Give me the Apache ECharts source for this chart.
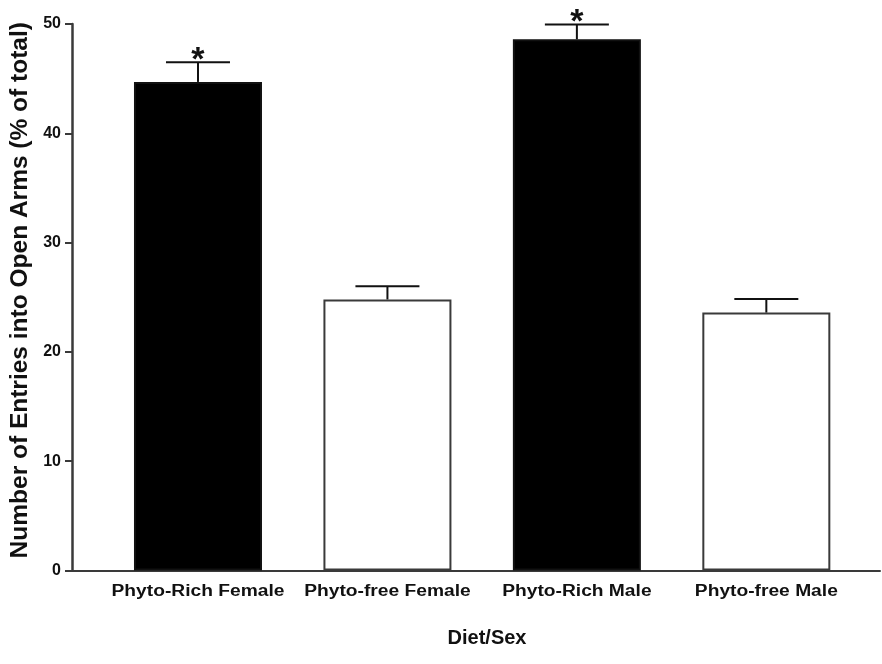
<!DOCTYPE html>
<html>
<head>
<meta charset="utf-8">
<script src="https://cdn.jsdelivr.net/npm/echarts@6/dist/echarts.min.js"></script>
<style>
  html, body { margin: 0; padding: 0; background: #fff; }
  #chart { width: 882px; height: 664px; }
</style>
</head>
<body>
<div id="chart"></div>
<script>
// Group labels along the x axis
const categories = ['Phyto-Rich Female', 'Phyto-free Female', 'Phyto-Rich Male', 'Phyto-free Male'];
// Mean open-arm entries (% of total) and SEM for each group
const means = [44.7, 24.8, 48.6, 23.6];
const sems = [1.8, 1.2, 1.35, 1.25];
// Significance marks shown above the error bars
const marks = ['*', '', '*', ''];
// Black bars for phyto-rich diets, open bars for phyto-free
const fills = ['#000000', '#ffffff', '#000000', '#ffffff'];
const yTicks = [0, 10, 20, 30, 40, 50];

const font = 'Liberation Sans, Arial, Helvetica, sans-serif';

const barData = means.map((v, i) => ({
  value: [i, v],
  itemStyle: { color: fills[i], borderColor: fills[i] === '#000000' ? '#111' : '#3a3a3a', borderWidth: 2 }
}));
const errData = means.map((v, i) => [i, v, sems[i]]);

const chart = echarts.init(document.getElementById('chart'), null, { renderer: 'canvas' });
chart.setOption({
  animation: false,
  backgroundColor: '#ffffff',
  grid: { left: 72, right: 2, top: 24, bottom: 93.5, outerBoundsMode: 'none', containLabel: false },
  xAxis: {
    type: 'value',
    min: -0.665,
    max: 3.6,
    splitLine: { show: false },
    axisLine: { show: true, onZero: false, lineStyle: { color: '#3a3a3a', width: 2 } },
    axisTick: { show: false },
    axisLabel: { show: false },
    name: 'Diet/Sex',
    nameLocation: 'middle',
    nameGap: 58,
    nameTextStyle: { color: '#111', fontFamily: font, fontWeight: 'bold', fontSize: 20, padding: [0, 0, 0, 22] }
  },
  yAxis: {
    type: 'value',
    min: yTicks[0],
    max: yTicks[yTicks.length - 1],
    interval: 10,
    splitLine: { show: false },
    axisLine: { show: true, onZero: false, lineStyle: { color: '#3a3a3a', width: 2.5 } },
    axisTick: { show: true, length: 7, lineStyle: { color: '#3a3a3a', width: 2 } },
    axisLabel: { color: '#111', fontFamily: font, fontWeight: 'bold', fontSize: 16, margin: 11 },
    name: 'Number of Entries into Open Arms (% of total)',
    nameLocation: 'middle',
    nameGap: 39,
    nameTextStyle: { color: '#111', fontFamily: font, fontWeight: 'bold', fontSize: 24.5, padding: [0, 0, 0, 14] }
  },
  series: [
    {
      type: 'bar',
      data: barData,
      barWidth: 128,
      z: 2
    },
    {
      // error bars, significance marks and group labels
      type: 'custom',
      data: errData,
      clip: false,
      z: 3,
      renderItem: function (params, api) {
        const i = params.dataIndex;
        const x = api.value(0);
        const top = api.value(1);
        const err = api.value(2);
        const p0 = api.coord([x, top]);
        const p1 = api.coord([x, top + err]);
        const base = api.coord([x, 0]);
        const half = 32;
        const style = { stroke: '#111', lineWidth: 2 };
        const children = [
          { type: 'line', shape: { x1: p0[0], y1: p0[1], x2: p1[0], y2: p1[1] }, style: style },
          { type: 'line', shape: { x1: p1[0] - half, y1: p1[1], x2: p1[0] + half, y2: p1[1] }, style: style },
          {
            type: 'text',
            x: base[0], y: base[1] + 13,
            scaleX: 1.2,
            style: {
              text: categories[i], x: 0, y: 0,
              align: 'center', verticalAlign: 'top',
              font: 'bold 16px ' + font, fill: '#111'
            }
          }
        ];
        if (marks[i]) {
          children.push({
            type: 'text',
            style: {
              text: marks[i], x: p1[0], y: p1[1] - 2,
              align: 'center', verticalAlign: 'middle',
              font: 'bold 34px ' + font, fill: '#111'
            }
          });
        }
        return { type: 'group', children: children };
      }
    }
  ]
});
</script>
</body>
</html>
